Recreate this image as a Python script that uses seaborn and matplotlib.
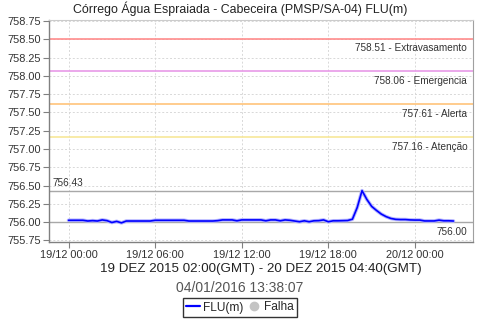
import numpy as np
import pandas as pd
import matplotlib
matplotlib.use("Agg")
import matplotlib.pyplot as plt
import matplotlib.dates as mdates
import matplotlib.patheffects as pe
from matplotlib.lines import Line2D
import seaborn as sns

# ---------------- data ----------------
title = "Córrego Água Espraiada - Cabeceira (PMSP/SA-04) FLU(m)"
subtitle = "19 DEZ 2015 02:00(GMT) - 20 DEZ 2015 04:40(GMT)"
stamp = "04/01/2016 13:38:07"
start = "2015-12-19 00:00"
step_minutes = 20
flu_values = [
    756.025, 756.025, 756.025, 756.025, 756.015, 756.020, 756.015, 756.030, 756.020,
    755.995, 756.010, 755.990, 756.015, 756.015, 756.015, 756.015, 756.015, 756.015,
    756.025, 756.025, 756.025, 756.025, 756.025, 756.025, 756.025, 756.015, 756.015,
    756.015, 756.015, 756.015, 756.015, 756.020, 756.030, 756.030, 756.030, 756.018,
    756.030, 756.030, 756.030, 756.030, 756.030, 756.018, 756.030, 756.030, 756.018,
    756.030, 756.025, 756.015, 756.005, 756.018, 756.005, 756.018, 756.020, 756.030,
    756.005, 756.018, 756.018, 756.020, 756.022, 756.040, 756.200, 756.430, 756.310,
    756.215, 756.160, 756.110, 756.075, 756.050, 756.038, 756.035, 756.035, 756.030,
    756.028, 756.028, 756.016, 756.016, 756.016, 756.027, 756.018, 756.018, 756.015,
]
threshold_values = [758.51, 758.06, 757.61, 757.16]
threshold_names = ["Extravasamento", "Emergencia", "Alerta", "Atenção"]
threshold_colors = ["#ff8c8c", "#e89ae8", "#ffc47a", "#f7e79a"]
y_ticks = [755.75, 756.00, 756.25, 756.50, 756.75, 757.00, 757.25, 757.50,
           757.75, 758.00, 758.25, 758.50, 758.75]
max_value = 756.43
min_value = 756.00
legend_labels = ["FLU(m)", "Falha"]

times = pd.date_range(start, periods=len(flu_values), freq=f"{step_minutes}min")
df = pd.DataFrame({"time": times, "FLU(m)": flu_values})

# ---------------- style ----------------
sns.set_style("white")
plt.rcParams["font.family"] = ["Liberation Sans", "DejaVu Sans"]

fig = plt.figure(figsize=(4.8, 3.2), dpi=100)
L, R, T, B = 49.3, 472.7, 19.5, 241.5
ax = fig.add_axes([L / 480, 1 - B / 320, (R - L) / 480, (B - T) / 320])

ax.grid(True, color="#d8d8d8", linestyle=(0, (2, 2)), linewidth=0.7)
ax.set_axisbelow(True)

for v, c in zip(threshold_values, threshold_colors):
    ax.axhline(v, color=c, linewidth=1.2, zorder=2)
for v in (max_value, min_value):
    ax.axhline(v, color="#a8a8a8", linewidth=1.0, zorder=2)

sns.lineplot(data=df, x="time", y="FLU(m)", ax=ax, color="#0000ff", linewidth=1.2,
             zorder=4, legend=False,
             path_effects=[pe.Stroke(linewidth=2.6, foreground="#b4b4ff"), pe.Normal()])

span = times[-1] - times[0]
ax.set_xlim(times[0] - span * 0.05, times[-1] + span * 0.05)
ax.set_ylim(755.735, 758.77)
ax.set_yticks(y_ticks)
ax.yaxis.set_major_formatter(matplotlib.ticker.FormatStrFormatter("%.2f"))
ax.xaxis.set_major_locator(mdates.HourLocator(byhour=[0, 6, 12, 18]))
ax.xaxis.set_major_formatter(mdates.DateFormatter("%d/%m %H:%M"))
ax.set_xlabel("")
ax.set_ylabel("")
ax.tick_params(axis="both", which="major", labelsize=7.9, length=4, width=0.8,
               color="#808080", labelcolor="#333333", direction="out", pad=2)
ax.tick_params(axis="x", bottom=True)
ax.tick_params(axis="y", left=True)

for side in ("left", "bottom"):
    ax.spines[side].set_color("#808080")
    ax.spines[side].set_linewidth(1.0)
ax.spines["top"].set_color("#cccccc")
ax.spines["right"].set_color("#a0a0a0")

for v, name in zip(threshold_values, threshold_names):
    ax.annotate(f"{v:.2f} - {name}", xy=(1, v), xycoords=("axes fraction", "data"),
                xytext=(-4, -3.5), textcoords="offset points", ha="right", va="top",
                fontsize=7.2, color="#333333")
ax.annotate(f"{max_value:.2f}", xy=(0, max_value), xycoords=("axes fraction", "data"),
            xytext=(2.5, 2), textcoords="offset points", ha="left", va="bottom",
            fontsize=7.2, color="#333333")
ax.annotate(f"{min_value:.2f}", xy=(1, min_value), xycoords=("axes fraction", "data"),
            xytext=(-4, -3.5), textcoords="offset points", ha="right", va="top",
            fontsize=7.2, color="#333333")

fig.text(0.5, 1 - 9 / 320, title, ha="center", va="center", fontsize=8.9, color="#222222")
fig.text(260.5 / 480, 1 - 269 / 320, subtitle, ha="center", va="center",
         fontsize=9.6, color="#222222")
fig.text(0.5, 1 - 288.5 / 320, stamp, ha="center", va="center",
         fontsize=10, color="#555555")

handles = [Line2D([], [], color="#0000ff", linewidth=1.6),
           Line2D([], [], linestyle="none", marker="o", markersize=6,
                  markerfacecolor="#c4c4c4", markeredgecolor="#c4c4c4")]
leg = fig.legend(handles, legend_labels, loc="center", bbox_to_anchor=(0.5, 1 - 307.5 / 320),
                 ncol=2, fontsize=8.6, frameon=True, fancybox=False, handlelength=1.1,
                 handletextpad=0.3, columnspacing=0.3, borderpad=0.3, borderaxespad=0)
leg.get_frame().set_edgecolor("black")
leg.get_frame().set_linewidth(1.0)

fig.savefig("out.png", dpi=100)
